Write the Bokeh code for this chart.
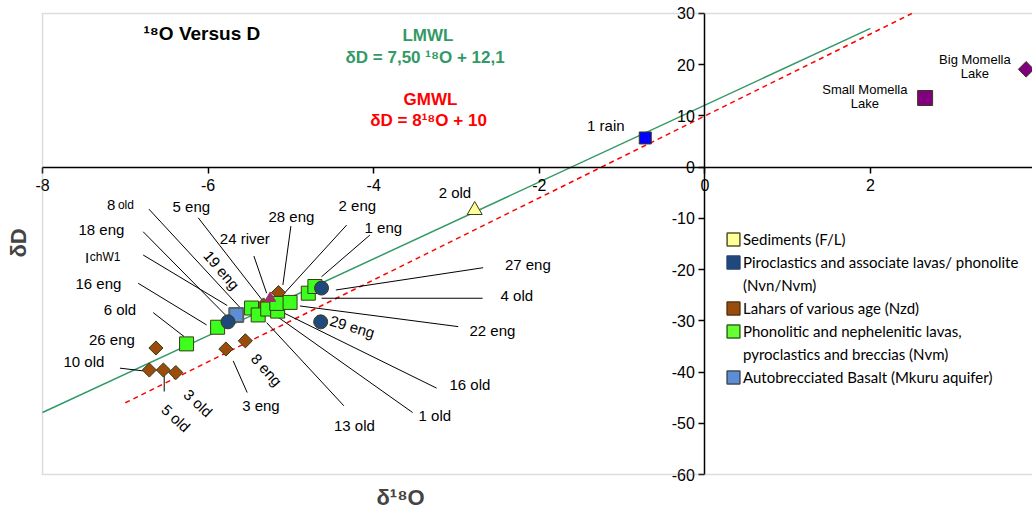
import math
from bokeh.plotting import figure
from bokeh.models import (ColumnDataSource, BoxAnnotation, Label, Title, Legend, LegendItem,
                          FixedTicker, PrintfTickFormatter)
from bokeh.core.properties import value
from bokeh.embed import file_html
from bokeh.resources import INLINE

# ---------------- data ----------------
x_ticks = [-8, -6, -4, -2, 0, 2, 4]
y_ticks = [-60, -50, -40, -30, -20, -10, 0, 10, 20, 30]

sed_x = [-2.78]
sed_y = [-8.4]
piro_x = [-5.76, -4.63, -4.64]
piro_y = [-30.2, -23.6, -30.2]
lahar_x = [-6.63, -6.71, -6.54, -6.39, -5.785, -5.55, -5.33, -5.15]
lahar_y = [-35.3, -39.6, -39.6, -40.1, -35.5, -33.9, -26.9, -24.5]
phono_x = [-6.26, -5.885, -5.475, -5.395, -5.28, -5.16, -5.17, -5.01, -4.79, -4.71]
phono_y = [-34.5, -31.25, -27.5, -28.85, -27.7, -28.1, -26.6, -26.4, -24.6, -23.3]
auto_x = [-5.66]
auto_y = [-28.85]
river_x = [-5.25]
river_y = [-25.6]
rain_x = [-0.72]
rain_y = [5.7]
small_lake_x = [2.66]
small_lake_y = [13.5]
big_lake_x = [3.88]
big_lake_y = [19.1]

lmwl_x = [-8.0, 2.0]
lmwl_y = [-47.9, 27.1]
gmwl_x = [-7.0, 2.5]
gmwl_y = [-46.0, 30.0]

legend_lines = [
    "Sediments (F/L)",
    "Piroclastics and associate lavas/ phonolite",
    "(Nvn/Nvm)",
    "Lahars of various age (Nzd)",
    "Phonolitic and nephelenitic lavas,",
    "pyroclastics and breccias (Nvm)",
    "Autobrecciated Basalt (Mkuru aquifer)",
]

# ---------------- annotation layout ----------------
lab_text = ["5 eng", "28 eng", "24 river", "18 eng", "16 eng", "6 old", "26 eng", "10 old",
            "19 eng", "2 eng", "1 eng", "27 eng", "4 old", "22 eng", "29 eng", "2 old",
            "16 old", "1 old", "13 old", "8 eng", "3 eng", "3 old", "5 old", "1 rain"]
lab_x = [-6.202, -4.994, -5.556, -7.289, -7.325, -7.065, -7.162, -7.5,
         -5.837, -4.197, -3.883, -2.138, -2.271, -2.566, -4.257, -3.019,
         -2.838, -3.261, -4.233, -5.293, -5.362, -6.119, -6.389, -1.196]
lab_y = [-7.60, -9.69, -13.9, -12.14, -22.67, -27.88, -33.59, -37.95,
         -20.08, -7.41, -11.75, -18.97, -25.15, -31.97, -31.13, -5.01,
         -42.5, -48.54, -50.49, -39.57, -46.59, -46.06, -48.99, 8.19]
lab_a = [0, 0, 0, 0, 0, 0, 0, 0,
         -0.86, 0, 0, 0, 0, 0, -0.29, 0,
         0, 0, 0, -0.84, 0, -0.75, -0.74, 0]

lead_x0 = [-6.715, -6.119, -5.0, -5.447, -6.784, -6.784, -6.844, -6.663, -4.327, -4.046,
           -2.678, -2.685, -2.979, -3.24, -3.53, -4.36, -5.528, -7.065, -6.53]
lead_y0 = [-8.19, -9.88, -11.5, -17.35, -12.61, -17.15, -22.67, -28.4, -11.31, -13.26,
           -19.63, -25.59, -31.13, -43.14, -47.9, -46.59, -44.0, -39.24, -40.1]
lead_x1 = [-5.543, -5.338, -5.097, -5.293, -5.77, -5.77, -6.018, -6.289, -5.153, -4.629,
           -4.457, -4.629, -4.891, -5.093, -5.193, -5.293, -5.697, -6.784, -6.53]
lead_y1 = [-28.65, -26.12, -23.0, -24.62, -29.2, -27.0, -30.8, -33.08, -25.93, -21.38,
           -23.98, -25.59, -27.1, -28.4, -28.85, -30.35, -37.82, -39.77, -43.8]

GREEN = "#339966"
OUT = "#3a3a14"

p = figure(width=1032, height=509, x_range=(-8.145, 3.957), y_range=(-61.56, 31.95),
           output_backend="svg", toolbar_location=None,
           min_border_left=30, min_border_right=0, min_border_top=3, min_border_bottom=27)
p.title.visible = False
p.outline_line_color = None
p.xgrid.visible = False
p.ygrid.visible = False

for ax in (p.xaxis[0], p.yaxis[0]):
    ax.fixed_location = 0
    ax.axis_line_color = "black"
    ax.axis_line_width = 1.5
    ax.major_tick_line_color = "black"
    ax.major_tick_line_width = 1.5
    ax.major_tick_in = 0
    ax.major_tick_out = 6
    ax.minor_tick_line_color = None
    ax.major_label_text_font = "Liberation Sans"
    ax.major_label_text_font_size = "16px"
    ax.major_label_text_color = "black"
    ax.formatter = PrintfTickFormatter(format="%d")
p.xaxis.ticker = FixedTicker(ticks=x_ticks)
p.yaxis.ticker = FixedTicker(ticks=y_ticks)
p.xaxis.bounds = (-8, 4)
p.yaxis.bounds = (-60, 30)
p.xaxis.major_label_standoff = 6
p.yaxis.major_label_standoff = 4

# plot-area border (left, top, bottom)
p.add_layout(BoxAnnotation(left=-8, right=4.5, bottom=-60, top=30, fill_alpha=0,
                           line_color="#8c8c8c", line_width=1.5))

p.add_layout(Title(text="δD", align="center", text_font_size="22px", text_font_style="bold",
                   text_font="Liberation Sans", standoff=0), "left")
p.add_layout(Title(text="δ¹⁸O", align="left", offset=346, text_font_size="22px",
                   text_font_style="bold", text_font="Liberation Sans", standoff=0), "below")

# water lines
p.line(lmwl_x, lmwl_y, line_color=GREEN, line_width=1.5)
p.line(gmwl_x, gmwl_y, line_color="#ff0000", line_width=1.5, line_dash="5 4")

# leader lines
p.segment(x0=lead_x0, y0=lead_y0, x1=lead_x1, y1=lead_y1, line_color="black", line_width=1)

# markers
p.scatter(lahar_x, lahar_y, marker="square", angle=math.pi / 4, size=10,
          fill_color="#994c0c", line_color=OUT, line_width=1)
p.scatter(phono_x, phono_y, marker="square", size=14, fill_color="#3cff1e", line_color=OUT, line_width=1)
p.scatter(auto_x, auto_y, marker="square", size=14, fill_color="#5b8ed6", line_color="#606060", line_width=2)
p.scatter(piro_x, piro_y, marker="circle", size=14, fill_color="#1f497d", line_color=OUT, line_width=1)
p.scatter(river_x, river_y, marker="triangle", size=11, fill_color="#993366", line_color="#993366")
p.scatter(sed_x, sed_y, marker="triangle", size=15, fill_color="#ffff99", line_color=OUT, line_width=1)
p.scatter(rain_x, rain_y, marker="square", size=12, fill_color="#0000ff", line_color=OUT, line_width=1)
p.scatter(small_lake_x, small_lake_y, marker="square", size=15, fill_color="#800080", line_color=OUT, line_width=1)
p.scatter(big_lake_x, big_lake_y, marker="square", angle=math.pi / 4, size=11,
          fill_color="#800080", line_color=OUT, line_width=1)

# point labels
src = ColumnDataSource(dict(t=lab_text, x=lab_x, y=lab_y, a=lab_a))
p.text(x="x", y="y", text="t", angle="a", source=src, text_align="center", text_baseline="middle",
       text_font=value("Liberation Sans"), text_font_size="15px", text_color="black")
p.text(x=[-7.222, -7.488], y=[-7.41, -17.54], text=["8", "I"], text_align="left",
       text_baseline="alphabetic", text_font=value("Liberation Sans"), text_font_size="15px")
p.text(x=[-7.089, -7.428], y=[-7.41, -17.54], text=["old", "chW1"], text_align="left",
       text_baseline="alphabetic", text_font=value("Liberation Sans"), text_font_size="12px")
p.text(x=[1.932, 1.932, 3.261, 3.261], y=[15.15, 12.42, 21.05, 18.27],
       text=["Small Momella", "Lake", "Big Momella", "Lake"], text_align="center",
       text_baseline="middle", text_font=value("Liberation Sans"), text_font_size="13px")

# chart texts
def lab(text, x, y, color, size):
    p.add_layout(Label(x=x, y=y, text=text, text_align="center", text_baseline="middle",
                       text_color=color, text_font_size=size, text_font_style="bold",
                       text_font="Liberation Sans"))

lab("¹⁸O Versus D", -6.075, 26.12, "black", "19px")
lab("LMWL", -3.345, 25.73, GREEN, "17px")
lab("δD = 7,50 ¹⁸O  + 12,1", -3.351, 21.44, GREEN, "17px")
lab("GMWL", -3.315, 13.26, "#ff0000", "17px")
lab("δD = 8¹⁸O  + 10", -3.309, 9.16, "#ff0000", "17px")

# legend (square swatches; zero-size rects so only the legend shows them)
sw_fill = ["#ffff99", "#1f497d", "#994c0c", "#66ff33", "#5b8ed6"]
sw_line = ["#555522", "#1f3f6f", "#55330f", "#2e6a1a", "#404a5a"]
sw_x = [sed_x, piro_x[:1], lahar_x[:1], phono_x[:1], auto_x]
sw_y = [sed_y, piro_y[:1], lahar_y[:1], phono_y[:1], auto_y]
sw = [p.rect(x=sx, y=sy, width=0, height=0, fill_color=fc, line_color=lc, line_width=1.5)
      for sx, sy, fc, lc in zip(sw_x, sw_y, sw_fill, sw_line)]
blank = p.rect(x=sed_x, y=sed_y, width=0, height=0, fill_alpha=0, line_alpha=0)
owners = [sw[0], sw[1], blank, sw[2], sw[3], blank, sw[4]]
items = [LegendItem(label=t, renderers=[r]) for t, r in zip(legend_lines, owners)]
legend = Legend(items=items, location=(695, 95), padding=0, margin=0, spacing=2,
                glyph_width=16, glyph_height=16, label_standoff=2,
                label_text_font="Lato", label_text_font_size="15px", label_text_color="black",
                label_height=21, border_line_color=None, background_fill_alpha=0)
p.add_layout(legend)

open("out.html", "w").write(file_html(p, INLINE))
